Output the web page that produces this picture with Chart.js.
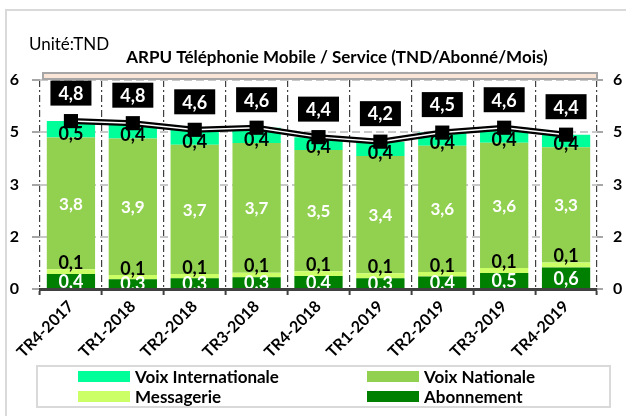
<!DOCTYPE html>
<html>
<head>
<meta charset="utf-8">
<script src="https://cdn.jsdelivr.net/npm/chart.js@4"></script>
<style>
  html, body { margin: 0; padding: 0; background: #fff; }
  canvas { display: block; }
</style>
</head>
<body>
<canvas id="arpuChart" width="626" height="416"></canvas>
<script>
// data (TND / abonné / mois)
const periods = ['TR4-2017', 'TR1-2018', 'TR2-2018', 'TR3-2018', 'TR4-2018', 'TR1-2019', 'TR2-2019', 'TR3-2019', 'TR4-2019'];
const abonnement = [0.43, 0.28, 0.31, 0.34, 0.37, 0.31, 0.36, 0.46, 0.62];
const messagerie = [0.14, 0.12, 0.12, 0.13, 0.14, 0.14, 0.13, 0.14, 0.14];
const voixNationale = [3.78, 3.92, 3.71, 3.72, 3.48, 3.37, 3.62, 3.60, 3.31];
const voixInternationale = [0.47, 0.44, 0.43, 0.44, 0.37, 0.41, 0.38, 0.43, 0.36];
const yTicks = [0, 1.5, 3, 4.5, 6];
const yTickLabels = ['0', '2', '3', '5', '6'];

const totals = periods.map((p, i) => abonnement[i] + messagerie[i] + voixNationale[i] + voixInternationale[i]);
const fmt = v => v.toFixed(1).replace('.', ',');

Chart.defaults.font.family = 'Lato';
Chart.defaults.color = '#000';

const decor = {
    id: 'decor',
    beforeDraw(chart) {
        const ctx = chart.ctx;
        ctx.save();
        // outer frame
        ctx.strokeStyle = '#D9D9D9';
        ctx.lineWidth = 2;
        ctx.beginPath();
        ctx.moveTo(6, 420);
        ctx.lineTo(6, 10);
        ctx.lineTo(630, 10);
        ctx.stroke();
        // titles
        ctx.fillStyle = '#000';
        ctx.textBaseline = 'middle';
        ctx.font = '17px Lato';
        ctx.textAlign = 'left';
        ctx.fillText('Unité:TND', 29, 45);
        ctx.font = 'bold 17px Lato';
        ctx.textAlign = 'center';
        ctx.fillText('ARPU Téléphonie Mobile / Service (TND/Abonné/Mois)', 337, 58);
        ctx.restore();
    },
    afterDatasetsDraw(chart) {
        const ctx = chart.ctx;
        const area = chart.chartArea;
        ctx.save();
        ctx.beginPath();
        ctx.rect(area.left, area.top - 40, area.right - area.left, area.bottom - area.top + 39);
        ctx.clip();
        ctx.textAlign = 'center';
        ctx.textBaseline = 'middle';
        chart.data.datasets.forEach((ds, di) => {
            if (!ds.lbl) return;
            const meta = chart.getDatasetMeta(di);
            ctx.font = ds.lbl.font;
            ctx.fillStyle = ds.lbl.color;
            meta.data.forEach((bar, i) => {
                let y;
                if (ds.lbl.pos === 'mid') y = (bar.y + bar.base) / 2 + 1;
                else if (ds.lbl.pos === 'above') y = bar.y - 6;
                else y = bar.base - 3;
                ctx.fillText(fmt(ds.data[i]), bar.x, y);
            });
        });
        ctx.restore();

        // total boxes
        const idx = chart.data.datasets.findIndex(d => d.totalBoxes);
        const meta = chart.getDatasetMeta(idx);
        ctx.save();
        ctx.textAlign = 'center';
        ctx.textBaseline = 'middle';
        ctx.font = 'bold 18px Lato';
        meta.data.forEach((pt, i) => {
            const cy = pt.y - 28;
            ctx.fillStyle = '#000';
            ctx.fillRect(pt.x - 20.5, cy - 12.5, 41, 25);
            ctx.fillStyle = '#fff';
            ctx.fillText(fmt(totals[i]), pt.x, cy + 1);
        });
        ctx.restore();
    },
    afterDraw(chart) {
        const ctx = chart.ctx;
        const area = chart.chartArea;
        ctx.save();
        // top wall strip
        ctx.fillStyle = '#FBE5D6';
        ctx.strokeStyle = '#A6A6A6';
        ctx.lineWidth = 2;
        ctx.fillRect(area.left + 3, area.top - 7, area.right - area.left - 3, 6);
        ctx.strokeRect(area.left + 3, area.top - 7, area.right - area.left - 3, 6);

        // legend box
        ctx.strokeStyle = '#D9D9D9';
        ctx.lineWidth = 2;
        ctx.strokeRect(37, 366, 573, 41);
        const items = chart.data.datasets.filter(d => d.lbl).slice().reverse();
        ctx.font = 'bold 17px Lato';
        ctx.textAlign = 'left';
        ctx.textBaseline = 'middle';
        items.forEach((d, k) => {
            const x = k % 2 === 0 ? 78 : 367;
            const y = k < 2 ? 376.5 : 396.5;
            ctx.fillStyle = d.backgroundColor;
            ctx.fillRect(x, y - 5.5, 52, 11);
            ctx.fillStyle = '#000';
            ctx.fillText(d.label, x + 57, y + 1);
        });
        ctx.restore();
    }
};

new Chart(document.getElementById('arpuChart'), {
    type: 'bar',
    data: {
        labels: periods,
        datasets: [
            {
                type: 'line', label: 'Total', data: totals, stack: 'pts', order: 0,
                showLine: false, pointStyle: 'rect', pointRadius: 10,
                pointBackgroundColor: '#000', pointBorderColor: '#000', pointBorderWidth: 0,
                totalBoxes: true
            },
            {
                type: 'line', label: 'Total inner', data: totals, stack: 'inner', order: 1,
                borderColor: '#fff', borderWidth: 1.5, pointRadius: 0, tension: 0
            },
            {
                type: 'line', label: 'Total outer', data: totals, stack: 'outer', order: 2,
                borderColor: '#000', borderWidth: 6, pointRadius: 0, tension: 0
            },
            {
                label: 'Abonnement', data: abonnement, backgroundColor: '#008000', order: 3,
                lbl: { pos: 'mid', color: '#fff', font: 'bold 18px Lato' }
            },
            {
                label: 'Messagerie', data: messagerie, backgroundColor: '#CCFF66', order: 3,
                lbl: { pos: 'above', color: '#000', font: 'bold 18px Lato' }
            },
            {
                label: 'Voix Nationale', data: voixNationale, backgroundColor: '#92D050', order: 3,
                lbl: { pos: 'mid', color: '#fff', font: 'bold 17px Lato' }
            },
            {
                label: 'Voix Internationale', data: voixInternationale, backgroundColor: '#00FF99', order: 3,
                lbl: { pos: 'base', color: '#000', font: 'bold 18px Lato' }
            }
        ]
    },
    options: {
        responsive: false,
        animation: false,
        barPercentage: 0.78,
        categoryPercentage: 1,
        layout: { padding: { top: 80, left: 4, right: 0, bottom: 55 } },
        plugins: {
            legend: { display: false },
            tooltip: { enabled: false },
            title: { display: false }
        },
        scales: {
            x: {
                stacked: true,
                grid: { offset: true, color: '#404040', lineWidth: 1.2, tickLength: 6, tickColor: '#404040', tickWidth: 2 },
                border: { display: true, color: '#404040', width: 3, dash: [7, 3, 2, 3] },
                ticks: { font: { size: 16, weight: 'bold' }, minRotation: 45, maxRotation: 45, padding: 2 },
                afterFit: s => { s.height = 72; }
            },
            y: {
                stacked: true,
                min: 0, max: 6,
                afterBuildTicks: s => { s.ticks = yTicks.map(v => ({ value: v })); },
                grid: { color: '#C8C8C8', lineWidth: 2, tickLength: 8, tickColor: '#A6A6A6' },
                border: { display: false, dash: [8, 4] },
                ticks: { font: { size: 16, weight: 'bold' }, padding: 13, callback: (v, i) => yTickLabels[i] },
                afterFit: s => { s.width = 36; }
            },
            y2: {
                position: 'right',
                min: 0, max: 6,
                afterBuildTicks: s => { s.ticks = yTicks.map(v => ({ value: v })); },
                grid: { drawOnChartArea: false, tickLength: 6, tickColor: '#A6A6A6', lineWidth: 2 },
                border: { display: false },
                ticks: { font: { size: 16, weight: 'bold' }, padding: 10, callback: (v, i) => yTickLabels[i] },
                afterFit: s => { s.width = 29; }
            }
        }
    },
    plugins: [decor]
});
</script>
</body>
</html>
